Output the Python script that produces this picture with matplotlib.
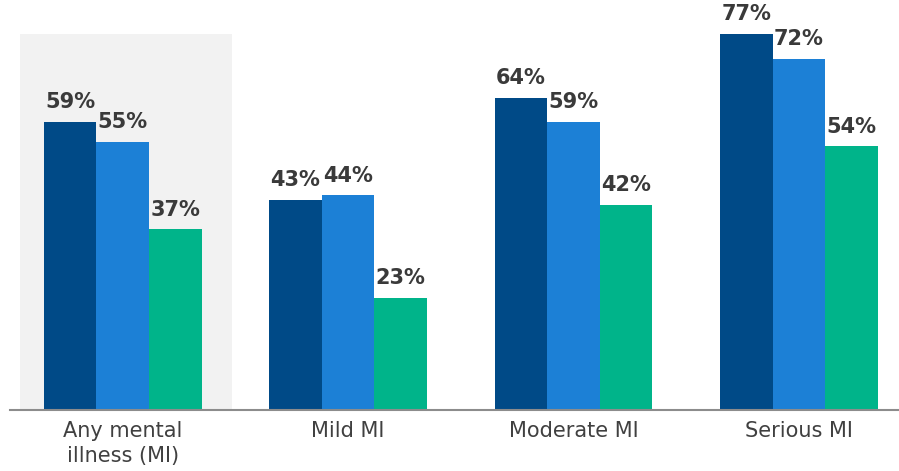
import numpy as np
import matplotlib.pyplot as plt

categories = ["Any mental\nillness (MI)", "Mild MI", "Moderate MI", "Serious MI"]
series_a = [59, 43, 64, 77]
series_b = [55, 44, 59, 72]
series_c = [37, 23, 42, 54]

colors = ["#004a87", "#1c80d6", "#00b48a"]
text_color = "#3a3a3a"

fig = plt.figure(figsize=(8.99, 4.71), dpi=100)
ax = fig.add_axes([10 / 899, 61 / 471, 1 - 10 / 899, 1 - 61 / 471])

x = np.arange(len(categories))
width = 0.2335

# gray highlight behind the first group
ax.fill_between([x[0] - 0.455, x[0] + 0.485], 0, max(series_a), color="#f2f2f2", zorder=0, lw=0)

for i, vals in enumerate([series_a, series_b, series_c]):
    pos = x + (i - 1) * width
    ax.bar(pos, vals, width=width, color=colors[i], zorder=2)
    for p, v in zip(pos, vals):
        ax.annotate(f"{v}%", (p - width / 2, v), xytext=(1, 7), textcoords="offset points",
                    ha="left", va="bottom", fontsize=15, fontweight="bold", color=text_color)

ax.set_xlim(-0.5, 3.444)
ax.set_ylim(0, 84)
ax.set_xticks(x)
ax.set_xticklabels(categories, fontsize=15, color="#404040", linespacing=1.3)
ax.tick_params(axis="x", length=0, pad=8)
ax.set_yticks([])
for s in ["top", "right", "left"]:
    ax.spines[s].set_visible(False)
ax.spines["bottom"].set_color("#8c8c8c")
ax.spines["bottom"].set_linewidth(1.5)
ax.patch.set_visible(False)

fig.savefig("out.png", dpi=100)
